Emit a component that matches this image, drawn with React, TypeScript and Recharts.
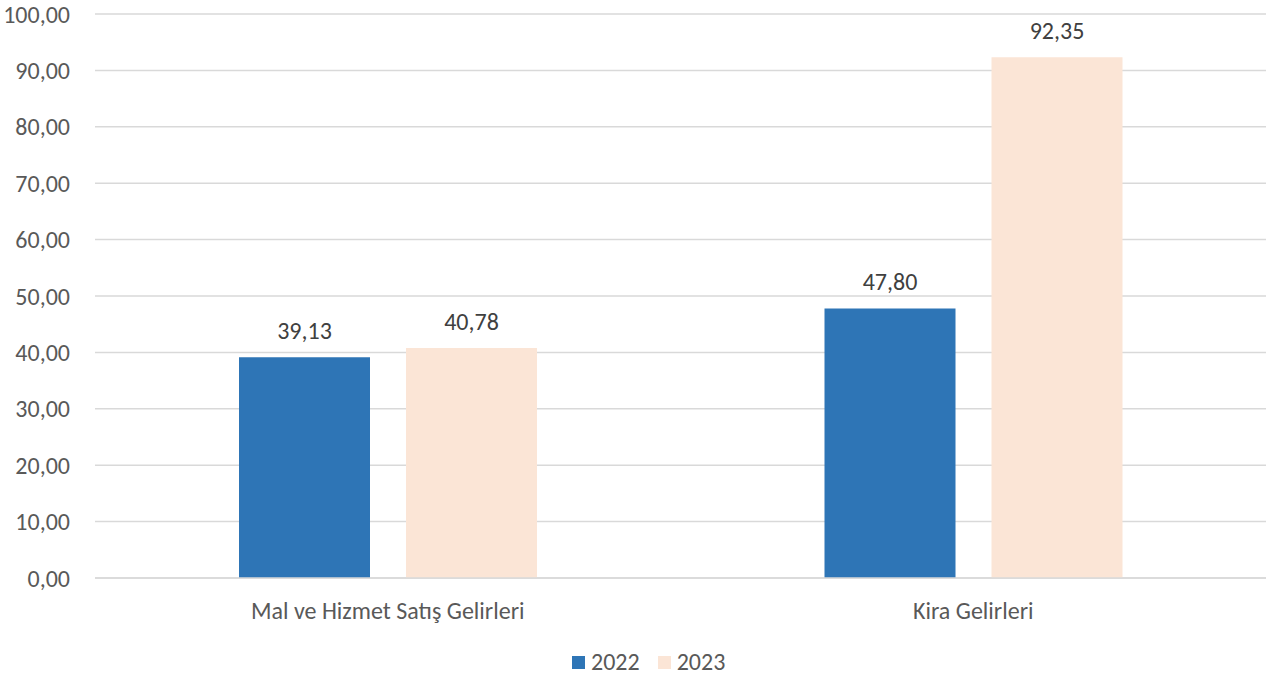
import { Bar, BarChart, CartesianGrid, LabelList, XAxis, YAxis } from 'recharts';

const categories = ['Mal ve Hizmet Satış Gelirleri', 'Kira Gelirleri'];
const values2022 = [39.13, 47.8];
const values2023 = [40.78, 92.35];
const yTicks = [0, 10, 20, 30, 40, 50, 60, 70, 80, 90, 100];

const data = categories.map((name, i) => ({
  name,
  y2022: values2022[i],
  y2023: values2023[i],
}));

const FONT = 'Carlito, Lato, "Open Sans", sans-serif';
const fmt = (v: number) => v.toFixed(2).replace('.', ',');

const legendItems = [
  { label: '2022', color: '#2E75B6' },
  { label: '2023', color: '#FBE5D6' },
];

export default function App() {
  return (
    <div style={{ position: 'absolute', left: 0, top: 0, width: 1269, height: 674, background: '#fff' }}>
      <BarChart
        width={1269}
        height={674}
        data={data}
        margin={{ top: 14, right: 3, left: 0, bottom: 66 }}
        barSize={131}
        barGap={36}
      >
        <CartesianGrid vertical={false} stroke="#d9d9d9" strokeWidth={1.5} />
        <XAxis
          dataKey="name"
          height={30}
          axisLine={{ stroke: '#d9d9d9', strokeWidth: 1.5 }}
          tickLine={false}
          tickSize={22}
          tick={{ fontFamily: FONT, fontSize: 24, fill: '#595959' }}
        />
        <YAxis
          width={95}
          domain={[0, 100]}
          ticks={yTicks}
          interval={0}
          axisLine={false}
          tickLine={false}
          tickSize={23}
          tickFormatter={fmt}
          tick={{ fontFamily: FONT, fontSize: 24, fill: '#595959' }}
        />
        <Bar dataKey="y2022" name="2022" fill="#2E75B6" isAnimationActive={false}>
          <LabelList
            dataKey="y2022"
            position="top"
            offset={18}
            formatter={(v: number) => fmt(v)}
            style={{ fontFamily: FONT, fontSize: 24, fill: '#404040' }}
          />
        </Bar>
        <Bar dataKey="y2023" name="2023" fill="#FBE5D6" isAnimationActive={false}>
          <LabelList
            dataKey="y2023"
            position="top"
            offset={18}
            formatter={(v: number) => fmt(v)}
            style={{ fontFamily: FONT, fontSize: 24, fill: '#404040' }}
          />
        </Bar>
      </BarChart>
      {/* legend drawn outside so it doesn't shrink the plot area */}
      <div
        style={{
          position: 'absolute',
          top: 647,
          left: 572,
          display: 'flex',
          gap: 18,
          fontFamily: FONT,
          fontSize: 24,
          lineHeight: '30px',
          color: '#595959',
        }}
      >
        {legendItems.map((it) => (
          <span key={it.label} style={{ display: 'flex', alignItems: 'center' }}>
            <span
              style={{ width: 13, height: 13, background: it.color, marginRight: 6, display: 'inline-block' }}
            />
            {it.label}
          </span>
        ))}
      </div>
    </div>
  );
}
